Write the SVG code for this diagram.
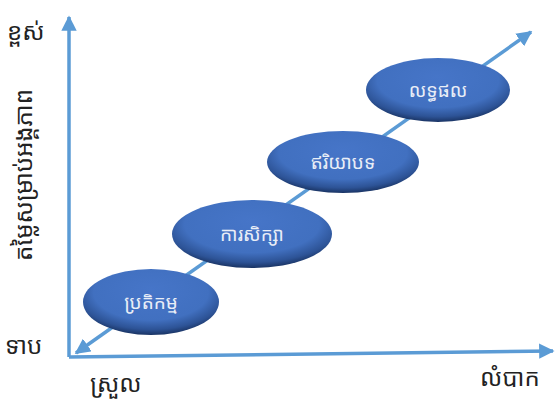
<svg xmlns="http://www.w3.org/2000/svg" width="557" height="406" viewBox="0 0 557 406">
  <defs>
    <marker id="head" viewBox="0 0 10 10" refX="9" refY="5" markerWidth="4.4" markerHeight="4.4" orient="auto-start-reverse" markerUnits="strokeWidth">
      <path d="M0,0 L10,5 L0,10 z" fill="#5B9BD5"/>
    </marker>
    <radialGradient id="blob" cx="50%" cy="38%" r="62%" fx="50%" fy="30%">
      <stop offset="0" stop-color="#4675C8"/>
      <stop offset="0.68" stop-color="#4170C0"/>
      <stop offset="0.88" stop-color="#2D5396"/>
      <stop offset="1" stop-color="#1A3464"/>
    </radialGradient>
  </defs>
  <style>
    .axis { fill: none; stroke: #5B9BD5; stroke-width: 3.5; }
    .node ellipse { fill: url(#blob); }
    .node text { font-family: "Noto Sans Khmer", "Khmer OS", "Noto Sans", sans-serif; font-size: 19px; fill: #E9EEF7; text-anchor: middle; dominant-baseline: central; }
    .lbl { font-family: "Noto Sans Khmer", "Khmer OS", "Noto Sans", sans-serif; font-size: 24px; fill: #222; }
  </style>

  <rect width="557" height="406" fill="#FFFFFF"/>

  <!-- axes and trend line -->
  <g id="connectors">
    <path class="axis" d="M69,357 L69,17" marker-end="url(#head)"/>
    <path class="axis" d="M69,357 L553,351" marker-end="url(#head)"/>
    <path class="axis" d="M76,353 L531,32" marker-start="url(#head)" marker-end="url(#head)"/>
  </g>

  <!-- axis labels -->
  <text class="lbl" x="7" y="40">ខ្ពស់</text>
  <text class="lbl" x="5" y="354">ទាប</text>
  <text class="lbl" x="90" y="392">ស្រួល</text>
  <text class="lbl" x="480" y="386">លំបាក</text>
  <text class="lbl" x="0" y="0" text-anchor="middle" transform="translate(32,175) rotate(-90)">តម្លៃសម្រាប់អង្គភាព</text>

  <!-- stages -->
  <g id="reaction" class="node">
    <ellipse cx="151" cy="302" rx="68" ry="33"/>
    <text x="151" y="302">ប្រតិកម្ម</text>
  </g>
  <g id="learning" class="node">
    <ellipse cx="252" cy="234" rx="80" ry="34"/>
    <text x="252" y="234">ការសិក្សា</text>
  </g>
  <g id="behavior" class="node">
    <ellipse cx="343" cy="162" rx="76" ry="31"/>
    <text x="343" y="162">ឥរិយាបទ</text>
  </g>
  <g id="results" class="node">
    <ellipse cx="438" cy="90" rx="72" ry="32"/>
    <text x="438" y="90">លទ្ធផល</text>
  </g>
</svg>
